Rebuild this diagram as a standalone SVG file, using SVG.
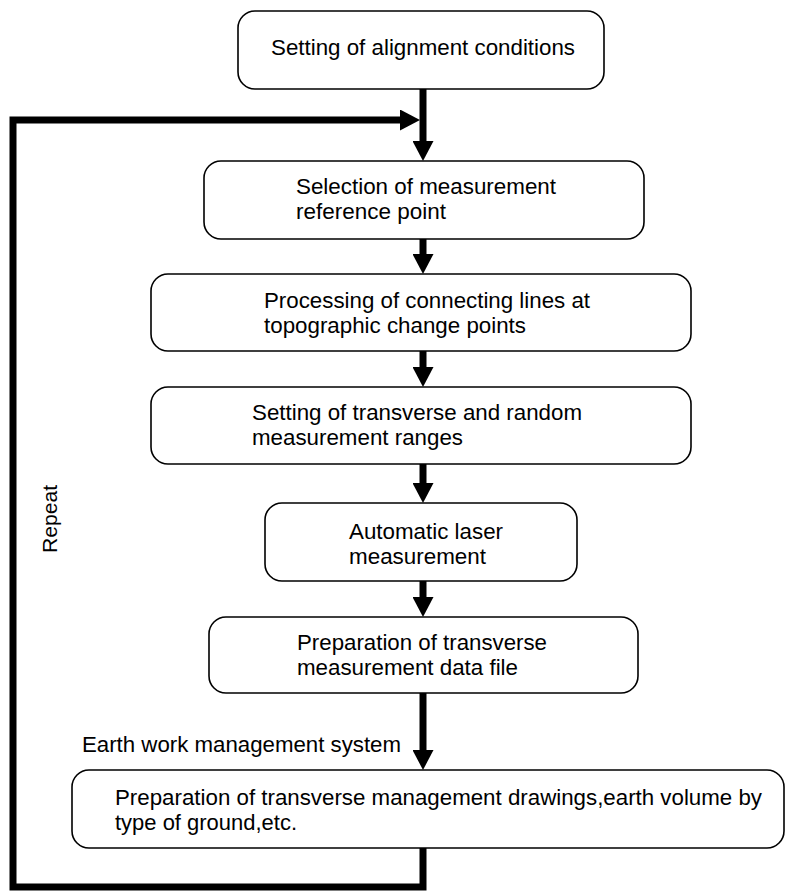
<svg xmlns="http://www.w3.org/2000/svg" width="787" height="893" viewBox="0 0 787 893">
<style>
.box{fill:#fff;stroke:#000;stroke-width:1.6}
.t{font-family:"Liberation Sans",Arial,sans-serif;font-size:21.5px;fill:#000}
.c{fill:none;stroke:#000;stroke-width:7}
</style>
<defs>
<marker id="ah" markerUnits="userSpaceOnUse" viewBox="0 0 20 21" refX="0" refY="10.5" markerWidth="20" markerHeight="21" orient="auto">
<path d="M0,0 L20,10.5 L0,21 Z" fill="#000"/>
</marker>
</defs>
<rect width="787" height="893" fill="#fff"/>
<g id="connectors">
<line class="c" x1="423" y1="89" x2="423" y2="141" marker-end="url(#ah)"/>
<line class="c" x1="423" y1="239" x2="423" y2="254" marker-end="url(#ah)"/>
<line class="c" x1="423" y1="351" x2="423" y2="367" marker-end="url(#ah)"/>
<line class="c" x1="423" y1="464" x2="423" y2="483" marker-end="url(#ah)"/>
<line class="c" x1="423" y1="581" x2="423" y2="597" marker-end="url(#ah)"/>
<line class="c" x1="423" y1="693" x2="423" y2="750" marker-end="url(#ah)"/>
<path class="c" d="M423,848 V887 H13 V120 H400" marker-end="url(#ah)"/>
<text class="t" x="82" y="752" textLength="319" lengthAdjust="spacingAndGlyphs">Earth work management system</text>
<text class="t" transform="translate(57,519) rotate(-90)" text-anchor="middle" style="font-size:20px" textLength="68" lengthAdjust="spacingAndGlyphs">Repeat</text>
</g>
<g id="n1">
<rect class="box" x="238" y="11" width="366" height="78" rx="17"/>
<text class="t" x="271" y="55" textLength="304" lengthAdjust="spacingAndGlyphs">Setting of alignment conditions</text>
</g>
<g id="n2">
<rect class="box" x="204" y="161" width="440" height="78" rx="17"/>
<text class="t" x="296" y="194" textLength="260" lengthAdjust="spacingAndGlyphs">Selection of measurement</text>
<text class="t" x="296" y="219" textLength="150" lengthAdjust="spacingAndGlyphs">reference point</text>
</g>
<g id="n3">
<rect class="box" x="151" y="274" width="540" height="77" rx="17"/>
<text class="t" x="264" y="308" textLength="326" lengthAdjust="spacingAndGlyphs">Processing of connecting lines at</text>
<text class="t" x="264" y="333" textLength="262" lengthAdjust="spacingAndGlyphs">topographic change points</text>
</g>
<g id="n4">
<rect class="box" x="151" y="387" width="540" height="77" rx="17"/>
<text class="t" x="252" y="420" textLength="330" lengthAdjust="spacingAndGlyphs">Setting of transverse and random</text>
<text class="t" x="252" y="445" textLength="211" lengthAdjust="spacingAndGlyphs">measurement ranges</text>
</g>
<g id="n5">
<rect class="box" x="265" y="503" width="312" height="78" rx="17"/>
<text class="t" x="349" y="539" textLength="154" lengthAdjust="spacingAndGlyphs">Automatic laser</text>
<text class="t" x="349" y="564" textLength="137" lengthAdjust="spacingAndGlyphs">measurement</text>
</g>
<g id="n6">
<rect class="box" x="209" y="617" width="429" height="76" rx="17"/>
<text class="t" x="297" y="650" textLength="250" lengthAdjust="spacingAndGlyphs">Preparation of transverse</text>
<text class="t" x="297" y="675" textLength="221" lengthAdjust="spacingAndGlyphs">measurement data file</text>
</g>
<g id="n7">
<rect class="box" x="72" y="770" width="712" height="78" rx="17"/>
<text class="t" x="115" y="805" textLength="647" lengthAdjust="spacingAndGlyphs">Preparation of transverse management drawings,earth volume by</text>
<text class="t" x="115" y="830" textLength="182" lengthAdjust="spacingAndGlyphs">type of ground,etc.</text>
</g>
</svg>
